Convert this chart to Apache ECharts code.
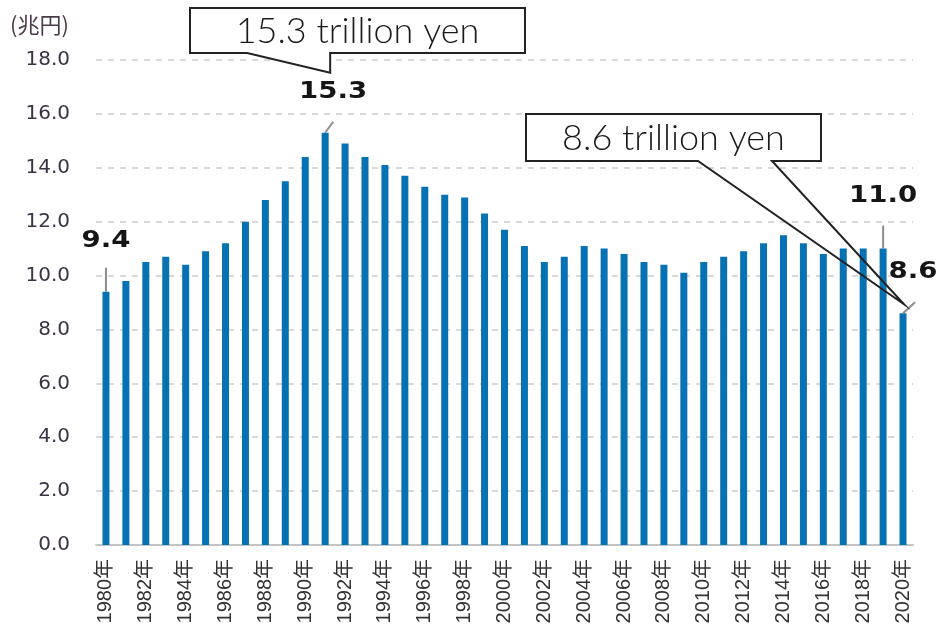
<!DOCTYPE html>
<html><head><meta charset="utf-8">
<script src="https://cdn.jsdelivr.net/npm/echarts@6/dist/echarts.min.js"></script>
<style>html,body{margin:0;padding:0;background:#fff}#c{width:943px;height:629px}</style>
</head><body><div id="c"></div>
<script>
const years = ['1980年','1981年','1982年','1983年','1984年','1985年','1986年','1987年','1988年','1989年',
  '1990年','1991年','1992年','1993年','1994年','1995年','1996年','1997年','1998年','1999年',
  '2000年','2001年','2002年','2003年','2004年','2005年','2006年','2007年','2008年','2009年',
  '2010年','2011年','2012年','2013年','2014年','2015年','2016年','2017年','2018年','2019年','2020年'];
const values = [9.4,9.8,10.5,10.7,10.4,10.9,11.2,12.0,12.8,13.5,
  14.4,15.3,14.9,14.4,14.1,13.7,13.3,13.0,12.9,12.3,
  11.7,11.1,10.5,10.7,11.1,11.0,10.8,10.5,10.4,10.1,
  10.5,10.7,10.9,11.2,11.5,11.2,10.8,11.0,11.0,11.0,8.6];
const labelledYears = ['1980年','1991年','2019年','2020年'];
const yTicks = [0,2,4,6,8,10,12,14,16,18];
const unitLabel = '(兆円)';
const calloutTexts = ['15.3 trillion yen','8.6 trillion yen'];
const calloutYears = ['1991年','2020年'];

const chart = echarts.init(document.getElementById('c'));
chart.setOption({
  animation:false,
  grid:{left:96,right:30,top:60,bottom:84},
  xAxis:{type:'category',data:years,
    axisLine:{lineStyle:{color:'#c4c4c4',width:2}},
    axisTick:{show:false},
    axisLabel:{interval:1,rotate:90,margin:14,fontSize:20,color:'#333',
      fontFamily:'"Liberation Sans","Noto Sans CJK JP",sans-serif'}},
  yAxis:{type:'value',min:yTicks[0],max:yTicks[yTicks.length-1],interval:2,
    axisLine:{show:false},axisTick:{show:false},
    axisLabel:{margin:26,fontSize:20,color:'#3b3344',fontFamily:'"DejaVu Sans",sans-serif',
      formatter:v=>v.toFixed(1)},
    splitLine:{lineStyle:{color:'#d8d8d8',width:2,type:[6,6]}}},
  series:[{type:'bar',data:values,barWidth:7,itemStyle:{color:'#0672b3'}}]
});

function px(name){ const i=years.indexOf(name); return {p:chart.convertToPixel({gridIndex:0},[i,values[i]]),v:values[i]}; }
const g=[];
g.push({type:'text',x:10,y:25,z:100,style:{text:unitLabel,font:'22px "Noto Sans CJK JP",sans-serif',fill:'#4a3b48',align:'left',verticalAlign:'middle',textAlign:'left',textVerticalAlign:'middle'}});
const lblCfg = {
  '1980年':{lx:0,ly:-24,tx:0,ty:-51},
  '1991年':{lx:8,ly:-11,tx:8,ty:-41},
  '2019年':{lx:0,ly:-23,tx:0,ty:-53},
  '2020年':{lx:12,ly:-11,tx:10,ty:-41}
};
labelledYears.forEach(n=>{
  const {p,v}=px(n); const c=lblCfg[n];
  g.push({type:'line',z:100,shape:{x1:p[0],y1:p[1],x2:p[0]+c.lx,y2:p[1]+c.ly},style:{stroke:'#8c8c8c',lineWidth:2}});
  g.push({type:'text',z:100,x:p[0]+c.tx,y:p[1]+c.ty,scaleX:1.2,style:{text:v.toFixed(1),font:'bold 23px "DejaVu Sans",sans-serif',fill:'#151515',align:'center',verticalAlign:'middle',textAlign:'center',textVerticalAlign:'middle'}});
});
{
  const {p}=px(calloutYears[0]);
  const tip=[p[0]+5,p[1]-60];
  const L=190,R=525,T=8,B=53;
  g.push({type:'polygon',z:101,shape:{points:[[L,T],[R,T],[R,B],[tip[0],B],tip,[tip[0]-83,B],[L,B]]},style:{fill:'#fff',stroke:'#222',lineWidth:2}});
  g.push({type:'text',z:102,x:(L+R)/2,y:(T+B)/2+1,style:{text:calloutTexts[0],font:'300 36px Lato,sans-serif',fill:'#1a1a1a',align:'center',verticalAlign:'middle',textAlign:'center',textVerticalAlign:'middle'}});
}
{
  const {p}=px(calloutYears[1]);
  const tip=[p[0]+1,p[1]-9];
  const L=526,R=821,T=114,B=161;
  g.push({type:'polygon',z:101,shape:{points:[[L,T],[R,T],[R,B],[772,B],tip,[698,B],[L,B]]},style:{fill:'none',stroke:'#222',lineWidth:2}});
  g.push({type:'rect',z:100,shape:{x:L,y:T,width:R-L,height:B-T},style:{fill:'#fff'}});
  g.push({type:'text',z:102,x:(L+R)/2,y:(T+B)/2+1,style:{text:calloutTexts[1],font:'300 36px Lato,sans-serif',fill:'#1a1a1a',align:'center',verticalAlign:'middle',textAlign:'center',textVerticalAlign:'middle'}});
}
chart.setOption({graphic:{elements:g}});
</script></body></html>
